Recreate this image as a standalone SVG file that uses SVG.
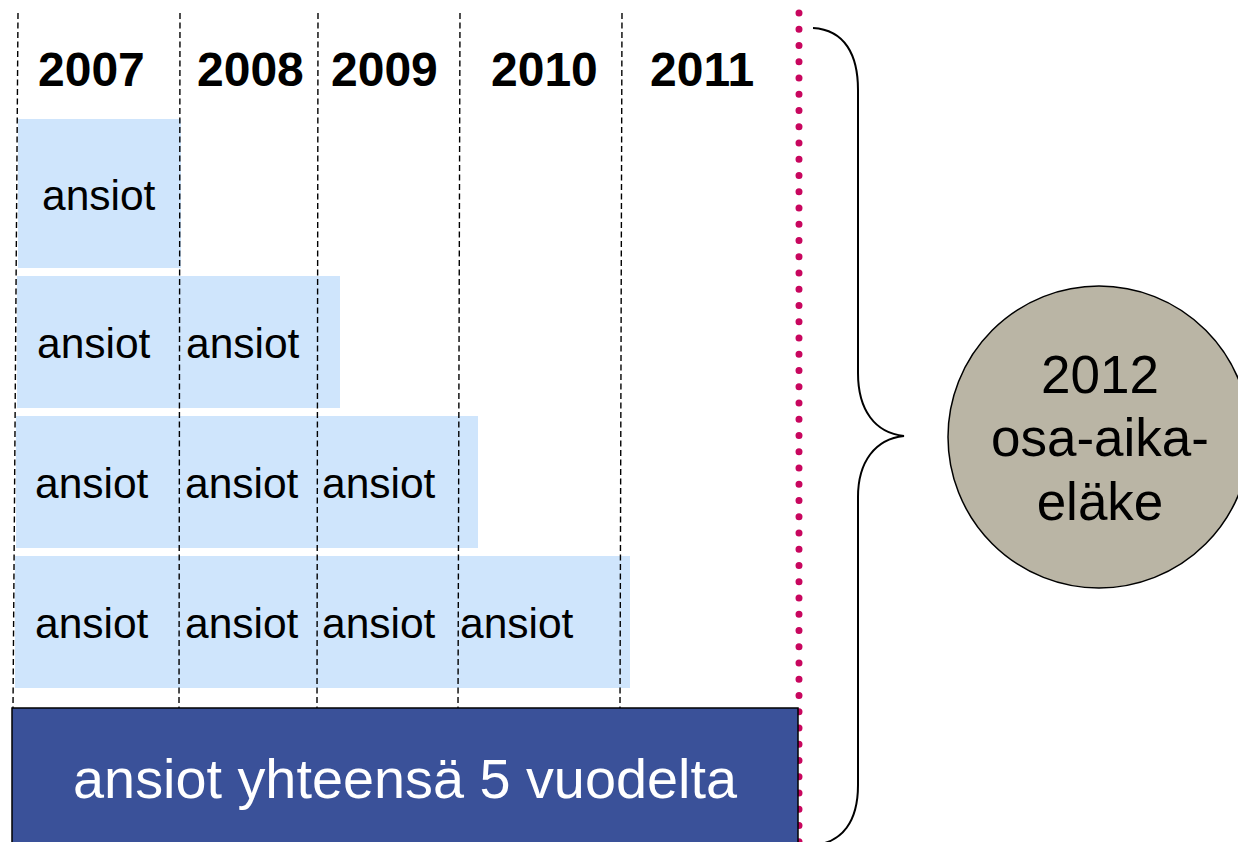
<svg xmlns="http://www.w3.org/2000/svg" width="1238" height="842" viewBox="0 0 1238 842">
<style>
.cell{fill:#CFE5FC}
.lbl{font-family:"Liberation Sans",Arial,sans-serif;font-size:42.5px;fill:#000}
.yr{font-family:"Liberation Sans",Arial,sans-serif;font-size:48px;font-weight:bold;fill:#000}
.dash{stroke:#000;stroke-width:1.4;stroke-dasharray:6 3.5;fill:none}
.ct{font-family:"Liberation Sans",Arial,sans-serif;font-size:53px;fill:#000}
</style>
<rect width="1238" height="842" fill="#fff"/>
<g id="rows">
<rect class="cell" x="18" y="119" width="163" height="149"/>
<rect class="cell" x="17" y="276" width="323" height="132"/>
<rect class="cell" x="16" y="416" width="462" height="132"/>
<rect class="cell" x="15" y="556" width="615" height="132"/>
</g>
<g id="connectors">
<line class="dash" x1="18" y1="13" x2="13" y2="708"/>
<line class="dash" x1="180" y1="13" x2="179" y2="708"/>
<line class="dash" x1="318" y1="13" x2="317" y2="708"/>
<line class="dash" x1="460" y1="13" x2="458" y2="708"/>
<line class="dash" x1="622" y1="13" x2="620" y2="708"/>
<line x1="799" y1="13" x2="799" y2="842" stroke="#C8065E" stroke-width="7" stroke-linecap="round" stroke-dasharray="0 16.25"/>
<path d="M813,28 C845,30 858,55 858,90 L858,373 C858,410 875,433 904,436 C875,439 858,462 858,497 L858,785 C858,822 842,842 815,845" fill="none" stroke="#000" stroke-width="2"/>
</g>
<g id="years">
<text class="yr" x="38" y="86">2007</text>
<text class="yr" x="197" y="86">2008</text>
<text class="yr" x="331" y="86">2009</text>
<text class="yr" x="491" y="86">2010</text>
<text class="yr" x="650" y="86">2011</text>
</g>
<g id="labels">
<text class="lbl" x="42" y="210">ansiot</text>
<text class="lbl" x="37" y="358">ansiot</text>
<text class="lbl" x="186" y="358">ansiot</text>
<text class="lbl" x="35" y="498">ansiot</text>
<text class="lbl" x="185" y="498">ansiot</text>
<text class="lbl" x="322" y="498">ansiot</text>
<text class="lbl" x="35" y="638">ansiot</text>
<text class="lbl" x="185" y="638">ansiot</text>
<text class="lbl" x="322" y="638">ansiot</text>
<text class="lbl" x="460" y="638">ansiot</text>
</g>
<g id="total">
<rect x="12" y="708" width="786" height="140" fill="#3A5199" stroke="#000" stroke-width="1.5"/>
<text x="405" y="798" text-anchor="middle" font-family="'Liberation Sans',Arial,sans-serif" font-size="55.8" fill="#fff">ansiot yhteensä 5 vuodelta</text>
</g>
<g id="pension">
<circle cx="1099" cy="437" r="151" fill="#BAB5A5" stroke="#000" stroke-width="1.5"/>
<text class="ct" x="1100" y="393" text-anchor="middle">2012</text>
<text class="ct" x="1100" y="456" text-anchor="middle">osa-aika-</text>
<text class="ct" x="1100" y="520" text-anchor="middle">eläke</text>
</g>
</svg>
